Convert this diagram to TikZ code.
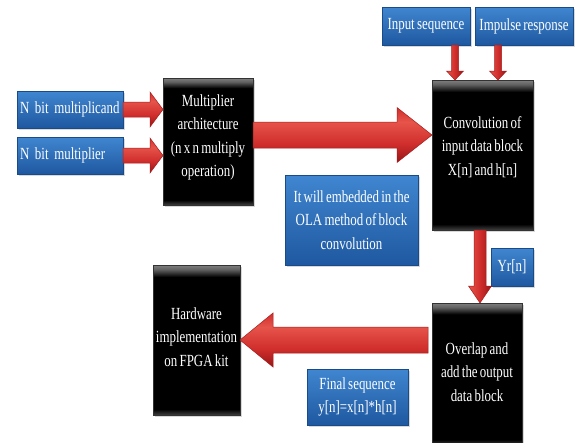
\documentclass[tikz,border=0pt]{standalone}
\usepackage{fontspec}
\setmainfont{Liberation Serif}[FakeStretch=0.76,WordSpace=0.7]
\usetikzlibrary{calc,shadows,backgrounds}
\definecolor{bluetop}{RGB}{64,134,208}
\definecolor{bluebot}{RGB}{30,88,160}
\definecolor{redlight}{RGB}{230,84,74}
\definecolor{redmid}{RGB}{208,46,44}
\definecolor{reddark}{RGB}{150,22,22}
\definecolor{redline}{RGB}{165,30,30}
\pgfdeclareverticalshading{blkshade}{100bp}{color(0bp)=(black!75); color(25bp)=(black!75); color(27bp)=(black); color(71bp)=(black); color(73.5bp)=(black!62); color(75bp)=(black!50); color(100bp)=(black!50)}
\pgfdeclareverticalshading{redh}{100bp}{color(0bp)=(reddark); color(25bp)=(reddark); color(42bp)=(redmid); color(62bp)=(redlight); color(75bp)=(redmid); color(100bp)=(redmid)}
\pgfdeclarehorizontalshading{redv}{100bp}{color(0bp)=(redlight); color(25bp)=(redlight); color(50bp)=(redmid); color(75bp)=(reddark); color(100bp)=(reddark)}
\tikzset{
  boxfont/.style={font=\fontsize{17}{23.5}\selectfont},
  bluebox/.style={boxfont, rectangle, anchor=north west, outer sep=0pt, inner sep=3pt,
    top color=bluetop, bottom color=bluebot, draw=bluebot!85!black, line width=0.4pt,
    text=white, align=center,
    drop shadow={opacity=0.3, shadow xshift=1.5pt, shadow yshift=-2pt}},
  blackbox/.style={rectangle, anchor=north west, outer sep=0pt, inner sep=0pt,
    shading=blkshade, draw=black!80, line width=0.4pt,
    drop shadow={opacity=0.3, shadow xshift=1.5pt, shadow yshift=-2pt}},
  boxtext/.style={boxfont, text=white, align=center, inner sep=0pt},
  redarrow/.style={draw=redline, line width=0.5pt, line join=miter}
}
\newcommand\harrow[5]{%
  \path[redarrow, shading=redh] let \p1=#1, \p2=#2 in
    (\x1,{\y1+(#3)*1pt}) -- ({\x2-(#5)*1pt},{\y1+(#3)*1pt}) -- ({\x2-(#5)*1pt},{\y1+(#4)*1pt})
    -- (\x2,\y1) -- ({\x2-(#5)*1pt},{\y1-(#4)*1pt}) -- ({\x2-(#5)*1pt},{\y1-(#3)*1pt})
    -- (\x1,{\y1-(#3)*1pt}) -- cycle;}
\newcommand\varrow[5]{%
  \path[redarrow, shading=redv] let \p1=#1, \p2=#2 in
    ({\x2-(#3)*1pt},\y1) -- ({\x2-(#3)*1pt},{\y2+(#5)*1pt}) -- ({\x2-(#4)*1pt},{\y2+(#5)*1pt})
    -- (\x2,\y2) -- ({\x2+(#4)*1pt},{\y2+(#5)*1pt}) -- ({\x2+(#3)*1pt},{\y2+(#5)*1pt})
    -- ({\x2+(#3)*1pt},\y1) -- cycle;}
\begin{document}
\begin{tikzpicture}[x=1pt,y=-1pt]
\useasboundingbox[fill=white] (0,0) rectangle (578,442);

% blue boxes
\node[bluebox, minimum width=106pt, minimum height=37pt, text width=100pt, align=left] (mcand) at (17,91) {N bit multiplicand};
\node[bluebox, minimum width=106pt, minimum height=37pt, text width=100pt, align=left] (mplier) at (17,137) {N bit multiplier};
\node[bluebox, minimum width=88pt, minimum height=38pt] (inseq) at (382,7) {Input sequence};
\node[bluebox, minimum width=98pt, minimum height=38pt] (impr) at (475,7) {Impulse response};
\node[bluebox, minimum width=133pt, minimum height=90pt] (ola) at (285,175) {It will embedded in the\\OLA method of block\\convolution};
\node[bluebox, minimum width=42pt, minimum height=38pt] (yr) at (491,248) {Yr[n]};
\node[bluebox, minimum width=101pt, minimum height=56pt] (fseq) at (307,369) {Final sequence\\y[n]=x[n]*h[n]};

% black boxes
\node[blackbox, minimum width=90pt, minimum height=127pt] (ma) at (163,78) {};
\node[boxtext] (ma-t) at ($(ma.center)+(0,-4)$) {Multiplier\\architecture\\(n x n multiply\\operation)};
\node[blackbox, minimum width=101pt, minimum height=150pt] (conv) at (432,80) {};
\node[boxtext] (conv-t) at ($(conv.center)+(0,-8)$) {Convolution of\\input data block\\X[n] and h[n]};
\node[blackbox, minimum width=90pt, minimum height=142pt] (overlap) at (432,303) {};
\node[boxtext] (overlap-t) at ($(overlap.center)+(0,-2)$) {Overlap and\\add the output\\data block};
\node[blackbox, minimum width=87pt, minimum height=150pt] (hw) at (153,265) {};
\node[boxtext] (hw-t) at ($(hw.center)+(0,-3)$) {Hardware\\implementation\\on FPGA kit};

% arrows
\harrow{(mcand.east)}{(ma.west)}{7.5}{17.5}{13}
\harrow{(mplier.east)}{(ma.west)}{7.5}{17.5}{13}
\harrow{($(ma.east)+(0,-6.5)$)}{(conv.west)}{13}{27.5}{35}
\varrow{(inseq.south)}{($(conv.north west)+(23,0)$)}{3.5}{8.5}{9}
\varrow{(impr.south)}{($(conv.north west)+(66,0)$)}{3.5}{8.5}{9}
\varrow{(conv.south)}{($(overlap.north west)+(48,0)$)}{6}{11.5}{17}
\harrow{($(overlap.west)+(-4,-34)$)}{(hw.east)}{13}{27}{-33}
\end{tikzpicture}
\end{document}
